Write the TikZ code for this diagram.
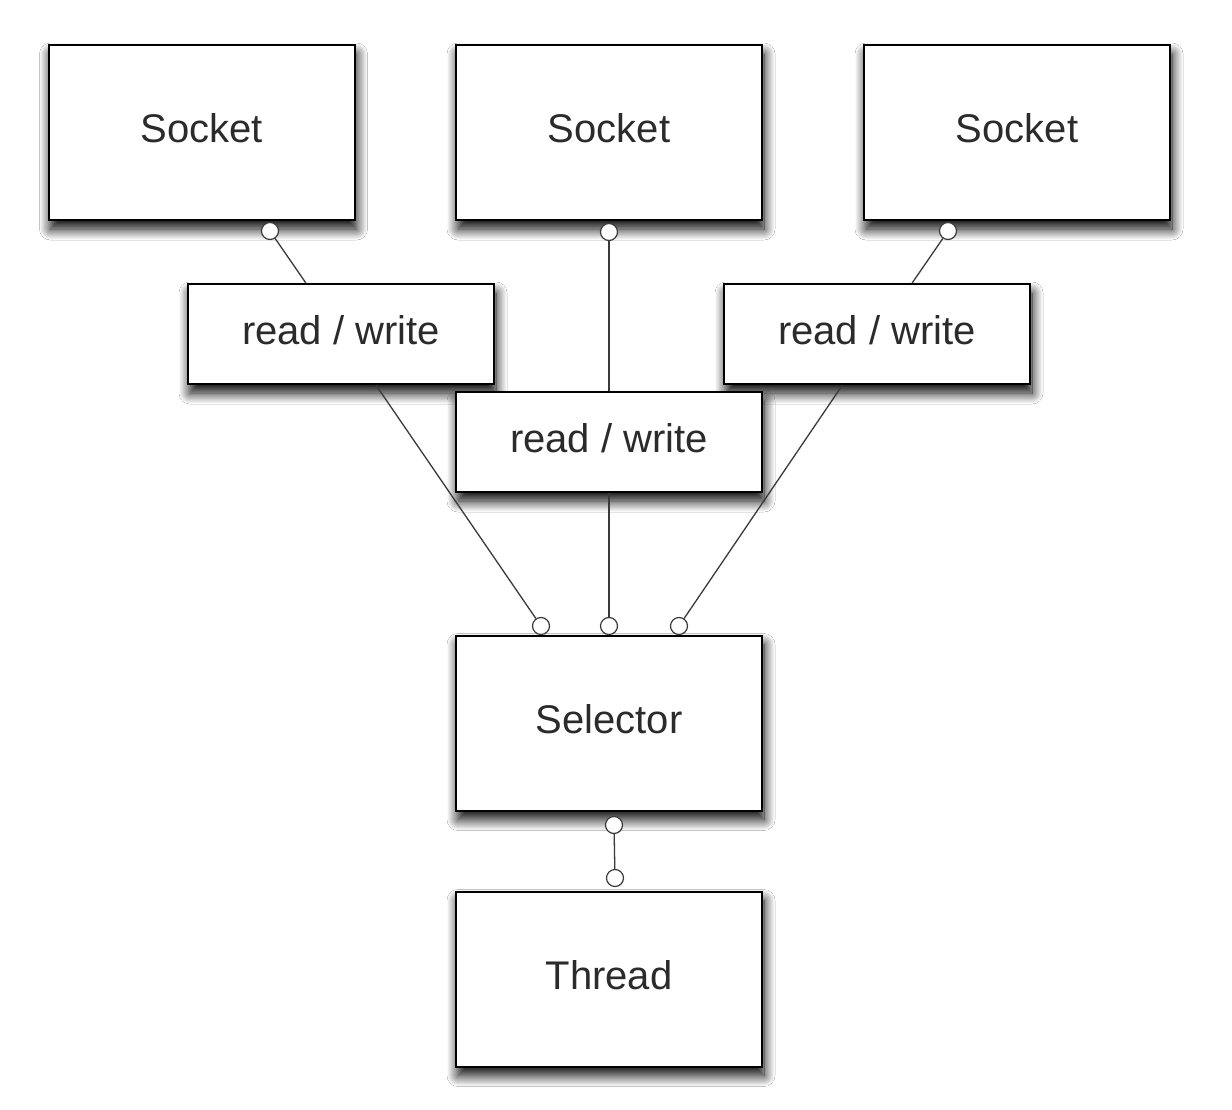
\documentclass[tikz,border=0pt]{standalone}
\usepackage{fontspec}
\setmainfont{Liberation Sans}
\usetikzlibrary{shadows.blur}
\definecolor{ink}{HTML}{2B2B2B}
\definecolor{wire}{HTML}{3A3A3A}
\begin{document}
\begin{tikzpicture}[x=1pt,y=-1pt,
  box/.style={draw=black, line width=2pt, fill=white, inner sep=0pt,
    font=\fontsize{40}{44}\selectfont, text=ink,
    text height=28pt, text depth=7.5pt,
    blur shadow={shadow xshift=2pt, shadow yshift=-9pt,
      shadow blur radius=11pt, shadow opacity=100, shadow blur steps=16}},
  bigbox/.style={box, minimum width=306pt, minimum height=175pt},
  rwbox/.style={box, minimum width=306pt, minimum height=100pt},
  port/.style={circle, draw=wire, line width=1.2pt, fill=white,
    inner sep=0pt, minimum size=17pt},
  wireline/.style={draw=wire, line width=1.3pt}]
\useasboundingbox (0,0) rectangle (1232,1110);
\fill[white] (0,0) rectangle (1232,1110);

% sockets
\node[bigbox] (sock1) at (201.5,132.5) {Socket};
\node[bigbox] (sock2) at (609,132.5) {Socket};
\node[bigbox] (sock3) at (1017,132.5) {Socket};

% read / write channels
\node[rwbox] (rw1) at (341,334) {read / write};
\node[rwbox] (rw3) at (877,334) {read / write};
\node[rwbox] (rw2) at (609,442) {read / write};

% selector and thread
\node[bigbox] (sel) at (609,723) {Selector};
\node[bigbox] (thr) at (609,979) {Thread};

% ports on the boxes
\node[port] (p1) at (270,231) {};
\node[port] (p2) at (609,232) {};
\node[port] (p3) at (948,231) {};
\node[port] (q1) at (541,626) {};
\node[port] (q2) at (609,626) {};
\node[port] (q3) at (679,626) {};
\node[port] (sb) at (614,825) {};
\node[port] (tt) at (615,878) {};

% connectors
\draw[wireline] (p1) -- (rw1);
\draw[wireline] (p2) -- (rw2);
\draw[wireline] (p3) -- (rw3);
\draw[wireline] (rw1) -- (q1);
\draw[wireline] (rw2) -- (q2);
\draw[wireline] (rw3) -- (q3);
\draw[wireline] (sb) -- (tt);
\end{tikzpicture}
\end{document}
